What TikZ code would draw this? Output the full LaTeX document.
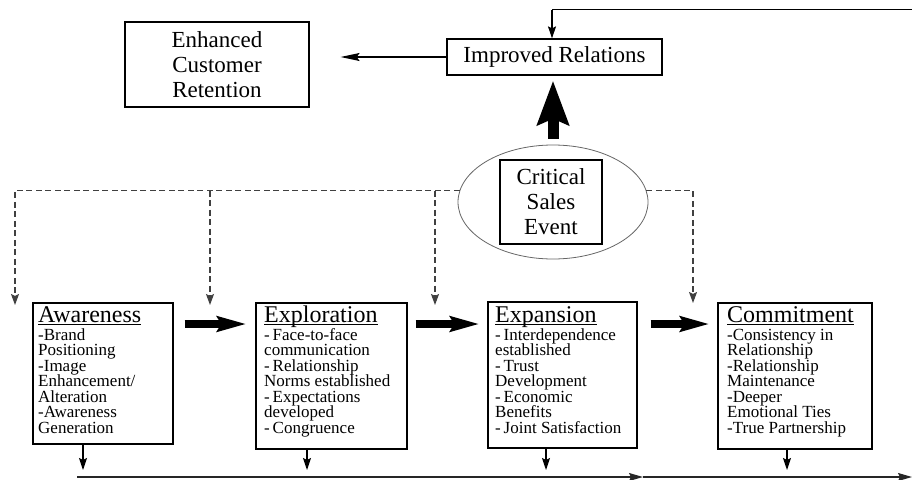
\documentclass[tikz,border=0pt]{standalone}
\usepackage{fontspec}
\setmainfont{Liberation Serif}
\usetikzlibrary{arrows.meta,shapes.geometric}
\lineskiplimit=-20pt\relax
\newcommand\hdul[1]{\setbox0\hbox{#1}\rlap{\rule[-3.2pt]{\wd0}{0.9pt}}#1}
\begin{document}
\begin{tikzpicture}[x=1pt,y=-1pt,
  box/.style={draw, line width=1.2pt, inner sep=0pt},
  big/.style={font=\fontsize{23}{25}\selectfont, align=center},
  hd/.style={font=\fontsize{24}{26}\selectfont, anchor=base west, inner sep=0pt},
  bd/.style={font=\fontsize{17}{15.5}\selectfont, align=left, anchor=base west, inner sep=0pt},
  thinarr/.style={line width=1.2pt, -{Stealth[width=8pt,length=12pt,inset=2pt]}},
  dsh/.style={line width=1.1pt, dash pattern=on 6pt off 3.5pt, draw=black!75,
     -{Stealth[width=8pt,length=11pt,inset=2pt]}},
  fatarr/.style={line width=8pt, -{Stealth[width=15pt,length=29pt,inset=4pt]}},
  uparr/.style={line width=11pt, -{Stealth[width=31pt,length=44pt,inset=6pt]}},
]
\useasboundingbox (0,0) rectangle (912,479);

% top nodes
\node[box, minimum width=184pt, minimum height=85pt, big] (ecr) at (217,64.5) {Enhanced\\Customer\\Retention};
\node[box, minimum width=215pt, minimum height=36pt, big] (ir) at (554.5,57) {Improved Relations};

% critical sales event
\node[ellipse, draw=black!60, line width=0.8pt, minimum width=190pt, minimum height=114pt, inner sep=0pt] (ell) at (553,202) {};
\node[box, minimum width=102pt, minimum height=84pt, big] (cse) at (551,202) {Critical\\Sales\\Event};

% stage boxes
\node[box, minimum width=140pt, minimum height=141pt] (aw) at (103,373.5) {};
\node[box, minimum width=151pt, minimum height=146pt] (ex) at (331.5,376) {};
\node[box, minimum width=149pt, minimum height=146pt] (ep) at (562.5,375) {};
\node[box, minimum width=154pt, minimum height=146pt] (cm) at (795,376) {};

\node[hd] (awh) at (38,322) {\hdul{Awareness}};
\node[bd] (awb) at (38,433) {-Brand\\Positioning\\-Image\\Enhancement/\\Alteration\\-Awareness\\Generation};
\node[hd] (exh) at (264,322) {\hdul{Exploration}};
\node[bd] (exb) at (264,433) {-\,Face-to-face\\communication\\-\,Relationship\\Norms established\\-\,Expectations\\developed\\-\,Congruence};
\node[hd] (eph) at (495,322) {\hdul{Expansion}};
\node[bd] (epb) at (495,433) {-\,Interdependence\\established\\-\,Trust\\Development\\-\,Economic\\Benefits\\-\,Joint Satisfaction};
\node[hd] (cmh) at (727,322) {\hdul{Commitment}};
\node[bd] (cmb) at (727,433) {-Consistency in\\Relationship\\-Relationship\\Maintenance\\-Deeper\\Emotional Ties\\-True Partnership};

% coordinates
\coordinate (tr) at (912,9.5);
\coordinate (td) at (552,9.5);
\coordinate (hy) at (0,324);
\coordinate (d1) at (15,305);
\coordinate (d2) at (210,305);
\coordinate (d3) at (435,305);
\coordinate (d4) at (693,303);
\coordinate (a1) at (83,470);
\coordinate (a2) at (307,470);
\coordinate (a3) at (546,470);
\coordinate (a4) at (787,470);
\coordinate (bl) at (77,477);
\coordinate (bm) at (643,477);
\coordinate (br) at (912,477);

% feedback loop
\draw[line width=1.2pt] (tr) -- (td);
\draw[thinarr] (td) -- (td |- ir.north);
\draw[line width=1.3pt, draw=black!85, -{Stealth[width=8pt,length=14pt,inset=2pt]}] (bl) -- (bm);
\draw[line width=1.3pt, draw=black!85, -{Stealth[width=8pt,length=14pt,inset=2pt]}] (bm) -- (br);

% improved relations -> retention
\draw[line width=1.2pt, -{Stealth[width=8pt,length=19pt,inset=3pt]}, shorten >=31pt] (ir.west) -- (ecr.east |- ir.west);

% big up arrow
\draw[uparr, shorten <=6pt, shorten >=5pt] (ell.north) -- (ell.north |- ir.south);

% dashed arrows
\draw[dsh] (ell.173) -| (d1);
\draw[dsh] (d2 |- ell.173) -- (d2);
\draw[dsh] (d3 |- ell.173) -- (d3);
\draw[dsh] (ell.7) -| (d4);

% fat arrows between stages
\draw[fatarr, shorten <=11pt, shorten >=9pt] (aw.east |- hy) -- (ex.west |- hy);
\draw[fatarr, shorten <=8pt, shorten >=8pt] (ex.east |- hy) -- (ep.west |- hy);
\draw[fatarr, shorten <=13pt, shorten >=8pt] (ep.east |- hy) -- (cm.west |- hy);

% down arrows
\draw[thinarr] (a1 |- aw.south) -- (a1);
\draw[thinarr] (a2 |- ex.south) -- (a2);
\draw[thinarr] (a3 |- ep.south) -- (a3);
\draw[thinarr] (a4 |- cm.south) -- (a4);
\end{tikzpicture}
\end{document}
